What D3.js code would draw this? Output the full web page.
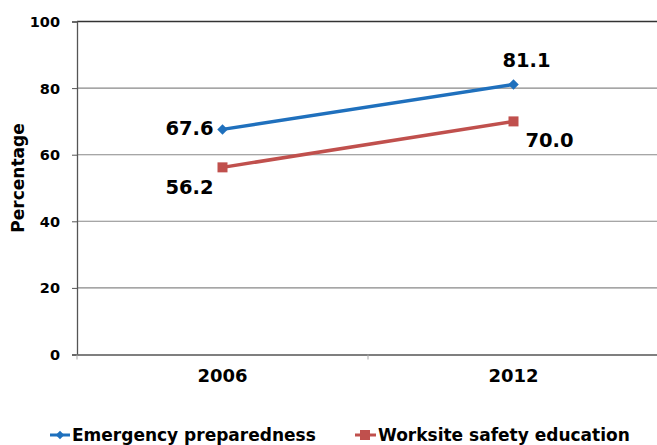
<!DOCTYPE html>
<html><head><meta charset="utf-8">
<script src="https://cdn.jsdelivr.net/npm/d3@7/dist/d3.min.js"></script>
<style>
body{margin:0;background:#fff;}
text{font-family:"DejaVu Sans",Verdana,sans-serif;font-weight:bold;fill:#000;}
</style></head><body>
<svg id="c" width="657" height="445"></svg>
<script>
const categories = ["2006", "2012"];
const emergency = [67.6, 81.1];
const worksite = [56.2, 70.0];
const yTicks = [0, 20, 40, 60, 80, 100];
const seriesNames = ["Emergency preparedness", "Worksite safety education"];

const svg = d3.select("#c");
const mLeft = 77, mRight = 659, mTop = 21.5, mBottom = 354.5;
const x = d3.scaleBand().domain(categories).range([mLeft, mRight]).paddingInner(0).paddingOuter(0);
const y = d3.scaleLinear().domain([0, 100]).range([mBottom, mTop]);

// gridlines
svg.append("g").selectAll("line").data(yTicks.filter(d => d > 0)).join("line")
  .attr("x1", mLeft).attr("x2", 657).attr("y1", d => y(d)).attr("y2", d => y(d))
  .attr("stroke", d => d === 100 ? "#333" : "#888").attr("stroke-width", d => d===100?1.3:1.1);

// y axis
const yAxis = svg.append("g").attr("transform", `translate(${mLeft},0)`)
  .call(d3.axisLeft(y).tickValues(yTicks).tickSize(5).tickPadding(12));
yAxis.select(".domain").attr("stroke", "#555").attr("stroke-width", 1.3);
yAxis.selectAll(".tick line").attr("stroke", "#555");
yAxis.selectAll("text").style("font-size", "14.5px").attr("dy", "0.35em");

// x axis
const xAxis = svg.append("g").attr("transform", `translate(0,${mBottom})`)
  .call(d3.axisBottom(x).tickSize(0).tickPadding(15));
xAxis.select(".domain").attr("stroke", "#555").attr("stroke-width", 1.6);
xAxis.selectAll("text").style("font-size", "18px");
// category boundary ticks
svg.append("g").selectAll("line").data([mLeft, x(categories[1])]).join("line")
  .attr("x1", d => d).attr("x2", d => d).attr("y1", mBottom).attr("y2", mBottom + 5)
  .attr("stroke", "#aaa");

svg.append("text").attr("transform", `translate(24,178) rotate(-90)`)
  .attr("text-anchor", "middle").style("font-size", "17px").text("Percentage");

const cx = d => x(d) + x.bandwidth() / 2;
const line = d3.line().x((d, i) => cx(categories[i])).y(d => y(d));

const colors = ["#1f70bd", "#c0504d"];
svg.append("path").datum(emergency).attr("d", line).attr("fill", "none")
  .attr("stroke", colors[0]).attr("stroke-width", 3.5);
svg.append("path").datum(worksite).attr("d", line).attr("fill", "none")
  .attr("stroke", colors[1]).attr("stroke-width", 3.5);

const diamond = d3.symbol().type(d3.symbolDiamond2).size(70);
svg.append("g").selectAll("path").data(emergency).join("path")
  .attr("d", diamond).attr("fill", colors[0])
  .attr("transform", (d, i) => `translate(${cx(categories[i])},${y(d)})`);
svg.append("g").selectAll("rect").data(worksite).join("rect")
  .attr("x", (d, i) => cx(categories[i]) - 5).attr("y", d => y(d) - 5)
  .attr("width", 10).attr("height", 10).attr("fill", colors[1]);

// data labels
const lbl = (val, i, dx, dy, anchor) => svg.append("text")
  .attr("x", cx(categories[i]) + dx).attr("y", y(val) + dy)
  .attr("text-anchor", anchor).attr("dy", "0.35em").style("font-size", "19.5px").text(val.toFixed(1));
lbl(emergency[0], 0, -9, -1, "end");
lbl(emergency[1], 1, 13, -24, "middle");
lbl(worksite[0], 0, -33, 20, "middle");
lbl(worksite[1], 1, 36, 19, "middle");

// legend
const lg = svg.append("g");
lg.append("line").attr("x1", 50).attr("x2", 70).attr("y1", 435).attr("y2", 435).attr("stroke", colors[0]).attr("stroke-width", 3);
lg.append("path").attr("d", d3.symbol().type(d3.symbolDiamond2).size(45)).attr("fill", colors[0]).attr("transform", "translate(60,435)");
lg.append("text").attr("x", 72).attr("y", 435).attr("dy", "0.35em").style("font-size", "17px").text(seriesNames[0]);
lg.append("line").attr("x1", 355).attr("x2", 376).attr("y1", 435).attr("y2", 435).attr("stroke", colors[1]).attr("stroke-width", 3);
lg.append("rect").attr("x", 360).attr("y", 430).attr("width", 10).attr("height", 10).attr("fill", colors[1]);
lg.append("text").attr("x", 378).attr("y", 435).attr("dy", "0.35em").style("font-size", "17px").text(seriesNames[1]);
</script></body></html>
